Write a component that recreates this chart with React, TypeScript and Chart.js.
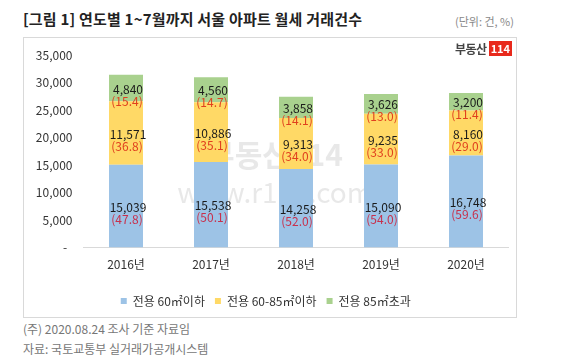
import React, { useEffect, useRef } from "react";
import { Chart, registerables } from "chart.js";

Chart.register(...registerables);

const categories = ["2016년", "2017년", "2018년", "2019년", "2020년"];
const small = [15039, 15538, 14258, 15090, 16748];
const mid = [11571, 10886, 9313, 9235, 8160];
const large = [4840, 4560, 3858, 3626, 3200];
const smallPct = ["47.8", "50.1", "52.0", "54.0", "59.6"];
const midPct = ["36.8", "35.1", "34.0", "33.0", "29.0"];
const largePct = ["15.4", "14.7", "14.1", "13.0", "11.4"];
const seriesNames = ["전용 60㎡이하", "전용 60-85㎡이하", "전용 85㎡초과"];
const yTicks = [0, 5000, 10000, 15000, 20000, 25000, 30000, 35000];

const FONT = "'Noto Sans CJK KR', 'Noto Sans', sans-serif";

const labelPlugin = {
  id: "segLabels",
  afterDatasetsDraw(chart: any) {
    const ctx = chart.ctx;
    const pcts = [smallPct, midPct, largePct];
    const pctColors = ["#c8304c", "#e0401e", "#e0401e"];
    ctx.save();
    ctx.textAlign = "center";
    ctx.textBaseline = "middle";
    ctx.font = `12px ${FONT}`;
    chart.data.datasets.forEach((ds: any, di: number) => {
      const meta = chart.getDatasetMeta(di);
      meta.data.forEach((bar: any, i: number) => {
        const cy = (bar.y + bar.base) / 2;
        const cx = bar.x + 2;
        ctx.fillStyle = "#1a1a1a";
        ctx.fillText(Number(ds.data[i]).toLocaleString("en-US"), cx, cy + 1);
        ctx.fillStyle = pctColors[di];
        ctx.fillText(`(${pcts[di][i]})`, cx - 1, cy + 13);
      });
    });
    ctx.restore();
  },
};

const watermarkPlugin = {
  id: "watermark",
  beforeDatasetsDraw(chart: any) {
    const ctx = chart.ctx;
    ctx.save();
    ctx.fillStyle = "rgba(190,190,190,0.35)";
    ctx.textAlign = "center";
    ctx.textBaseline = "middle";
    ctx.font = `bold 30px ${FONT}`;
    ctx.fillText("부동산114", 275 - 23, 155 - 37);
    ctx.font = `28px ${FONT}`;
    ctx.fillText("www.r114.com", 275 - 23, 192 - 37);
    ctx.restore();
  },
};

export default function App() {
  const ref = useRef<HTMLCanvasElement>(null);
  useEffect(() => {
    document.body.style.margin = "0";
    const chart = new Chart(ref.current!, {
      type: "bar",
      data: {
        labels: categories,
        datasets: [
          { label: seriesNames[0], data: small, backgroundColor: "#9dc3e6" },
          { label: seriesNames[1], data: mid, backgroundColor: "#ffd966" },
          { label: seriesNames[2], data: large, backgroundColor: "#a9d18e" },
        ],
      },
      options: {
        animation: false,
        responsive: false,
        maintainAspectRatio: false,
        layout: { padding: { top: 11, right: 8.5, bottom: 1, left: 0 } },
        datasets: { bar: { barPercentage: 0.4, categoryPercentage: 1 } },
        plugins: {
          legend: {
            position: "bottom",
            labels: {
              boxWidth: 6,
              boxHeight: 6,
              padding: 10,
              color: "#333",
              font: { size: 12, family: FONT },
            },
          },
          tooltip: { enabled: false },
        },
        scales: {
          x: {
            stacked: true,
            grid: { display: false, drawTicks: false },
            border: { display: true, color: "#d9d9d9" },
            ticks: { padding: 10, color: "#333", font: { size: 12, family: FONT } },
            afterFit: (s: any) => { s.height = 37.6; },
          },
          y: {
            stacked: true,
            min: 0,
            max: 35000,
            grid: { display: false, drawTicks: false },
            border: { display: false },
            afterBuildTicks: (s: any) => { s.ticks = yTicks.map((v) => ({ value: v })); },
            afterFit: (s: any) => { s.width = 60.5; },
            ticks: {
              padding: 11,
              color: "#333",
              font: { size: 12, family: FONT },
              callback: (v: any) => (Number(v) === 0 ? "-  " : Number(v).toLocaleString("en-US")),
            },
          },
        },
      },
      plugins: [watermarkPlugin, labelPlugin],
    });
    return () => chart.destroy();
  }, []);

  return (
    <div style={{ position: "relative", width: 570, height: 358, background: "#fff", fontFamily: FONT }}>
      <div style={{ position: "absolute", left: 23, top: 8, fontSize: 15, fontWeight: "bold", color: "#222", letterSpacing: 0.2 }}>
        [그림 1] 연도별 1~7월까지 서울 아파트 월세 거래건수
      </div>
      <div style={{ position: "absolute", left: 455, top: 13, fontSize: 11, color: "#888" }}>(단위: 건, %)</div>
      <div style={{ position: "absolute", left: 23, top: 37, width: 494, height: 281, border: "1px solid #d9d9d9", boxSizing: "border-box" }} />
      <canvas ref={ref} width={494} height={281} style={{ position: "absolute", left: 23, top: 37 }} />
      <div style={{ position: "absolute", left: 455, top: 40, display: "flex", alignItems: "center", gap: 2 }}>
        <span style={{ fontSize: 12, fontWeight: "bold", color: "#444", letterSpacing: -0.5 }}>부동산</span>
        <span style={{ background: "#e8291c", color: "#fff", fontSize: 11, fontWeight: "bold", padding: "0 2px", lineHeight: "15px" }}>114</span>
      </div>
      <div style={{ position: "absolute", left: 23, top: 320, fontSize: 12, color: "#777" }}>(주) 2020.08.24 조사 기준 자료임</div>
      <div style={{ position: "absolute", left: 23, top: 340, fontSize: 12, color: "#777" }}>자료: 국토교통부 실거래가공개시스템</div>
    </div>
  );
}
